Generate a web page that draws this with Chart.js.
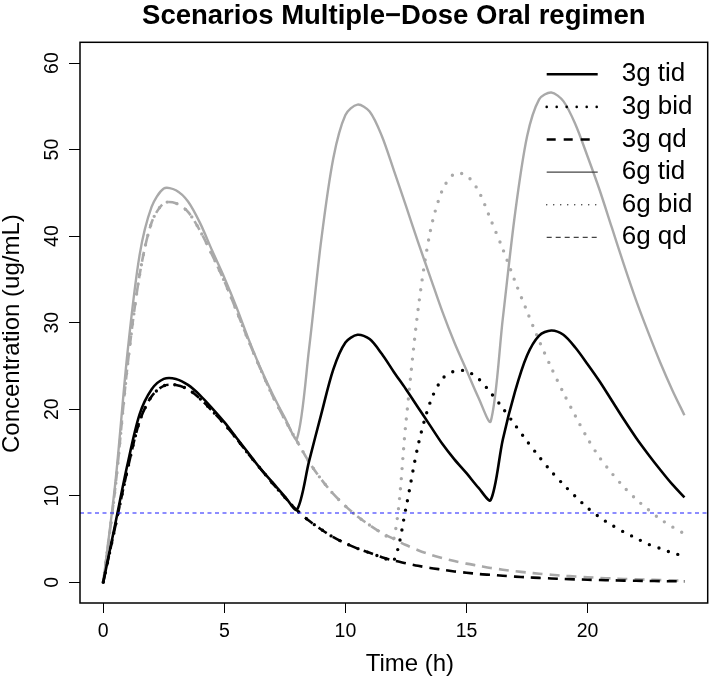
<!DOCTYPE html>
<html>
<head>
<meta charset="utf-8">
<title>Scenarios Multiple-Dose Oral regimen</title>
<script src="https://cdn.jsdelivr.net/npm/chart.js@4.4.1/dist/chart.umd.min.js"></script>
<style>
  html, body { margin: 0; padding: 0; background: #fff; }
  #wrap { width: 709px; height: 679px; }
</style>
</head>
<body>
<div id="wrap"><canvas id="pkChart"></canvas></div>
<script>
// time grid (h) and concentrations (ug/mL)
const hours = [0, 0.5, 1, 1.5, 2, 2.5, 3, 3.5, 4, 4.5, 5, 5.5, 6, 6.5, 7, 7.5, 8,
  8.5, 9, 9.5, 10, 10.5, 11, 11.5, 12, 12.5, 13, 13.5, 14, 14.5, 15, 15.5, 16,
  16.5, 17, 17.5, 18, 18.5, 19, 19.5, 20, 20.5, 21, 21.5, 22, 22.5, 23, 23.5, 24];

const tid3g = [0, 6.8, 13.6, 19.4, 22.3, 23.5, 23.5, 22.8, 21.6, 20.1, 18.5, 16.7, 14.9, 13.1, 11.5, 9.9, 8.4,
  14.0, 19.4, 24.6, 27.7, 28.6, 28.1, 26.4, 24.3, 22.3, 20.2, 18.1, 16.0, 14.2, 12.6, 10.9, 9.5,
  16.5, 22.0, 26.2, 28.5, 29.1, 28.6, 27.1, 25.2, 23.2, 21.0, 18.8, 16.7, 14.8, 13.0, 11.3, 9.8];

const bid3g = [0, 6.5, 13.0, 18.6, 21.5, 22.7, 22.8, 22.3, 21.2, 19.8, 18.3, 16.6, 14.8, 13.1, 11.4, 9.8, 8.3,
  7.1, 6.1, 5.2, 4.5, 3.9, 3.4, 2.9, 2.5, 8.6, 15.8, 20.8, 23.5, 24.4, 24.4, 23.5, 21.9,
  20.1, 18.2, 16.3, 14.5, 12.8, 11.3, 9.9, 8.6, 7.5, 6.6, 5.8, 5.1, 4.4, 3.9, 3.4, 3.0];

const qd3g = [0, 6.5, 13.0, 18.6, 21.5, 22.7, 22.8, 22.3, 21.2, 19.8, 18.3, 16.6, 14.8, 13.1, 11.4, 9.8, 8.3,
  7.1, 6.1, 5.2, 4.5, 3.9, 3.4, 2.9, 2.5, 2.2, 1.9, 1.65, 1.45, 1.25, 1.1, 0.95, 0.85,
  0.75, 0.65, 0.57, 0.5, 0.44, 0.38, 0.33, 0.29, 0.25, 0.22, 0.19, 0.17, 0.15, 0.13, 0.11, 0.1];

const tid6g = [0, 11.5, 26.5, 37.8, 43.4, 45.5, 45.3, 44.0, 41.5, 38.3, 35.2, 31.8, 28.1, 24.7, 21.7, 19.0, 16.6,
  27.0, 39.5, 49.0, 54.0, 55.2, 54.4, 51.6, 47.6, 43.5, 39.3, 35.3, 31.3, 27.7, 24.5, 21.3, 18.6,
  30.5, 42.5, 51.5, 55.8, 56.6, 55.6, 52.9, 49.2, 45.3, 41.0, 36.7, 32.6, 28.9, 25.4, 22.2, 19.3];

const bid6g = [0, 11.0, 25.0, 35.5, 41.6, 43.8, 43.8, 42.8, 40.6, 37.8, 34.8, 31.4, 27.9, 24.6, 21.5, 18.8, 16.3,
  13.9, 11.9, 10.2, 8.8, 7.6, 6.6, 5.7, 5.0, 18.5, 31.5, 40.5, 45.3, 47.2, 47.0, 45.2, 41.9,
  38.5, 34.8, 31.3, 27.9, 24.8, 21.9, 19.2, 16.6, 14.4, 12.6, 11.0, 9.6, 8.4, 7.3, 6.4, 5.6];

const qd6g = [0, 11.0, 25.0, 35.5, 41.6, 43.8, 43.8, 42.8, 40.6, 37.8, 34.8, 31.4, 27.9, 24.6, 21.5, 18.8, 16.3,
  13.9, 11.9, 10.2, 8.8, 7.6, 6.6, 5.7, 5.0, 4.3, 3.7, 3.2, 2.8, 2.45, 2.15, 1.9, 1.65,
  1.45, 1.28, 1.12, 0.98, 0.86, 0.75, 0.66, 0.58, 0.5, 0.44, 0.38, 0.33, 0.29, 0.25, 0.22, 0.19];

const seriesLabels = ['3g tid', '3g bid', '3g qd', '6g tid', '6g bid', '6g qd'];
const xTicks = [0, 5, 10, 15, 20];
const yTicks = [0, 10, 20, 30, 40, 50, 60];
const threshold = 8;
const xTitle = 'Time (h)';
const yTitle = 'Concentration (ug/mL)';

const FONT = "'Liberation Sans', Arial, Helvetica, sans-serif";
const BLACK = '#000000';
const GREY = '#a9a9a9';
const LEGEND_DARK = '#444444';

const toPoints = values => values.map((v, i) => ({ x: hours[i], y: v }));

const solid = [];
const dots = [0, 10];
const dashes = [10, 7];

const lineSet = (label, values, color, dash, width, legend) => ({
    label,
    data: toPoints(values),
    borderColor: color,
    borderWidth: width,
    borderDash: dash,
    borderCapStyle: dash === dots ? 'round' : 'butt',
    pointRadius: 0,
    fill: false,
    tension: 0.3,
    legendStyle: legend,
});

const datasets = [
    lineSet(seriesLabels[0], tid3g, BLACK, solid, 2.6, { color: BLACK, width: 2.6, dash: [], cap: 'butt' }),
    lineSet(seriesLabels[1], bid3g, BLACK, dots, 3.4, { color: BLACK, width: 2.6, dash: [0, 10], cap: 'round' }),
    lineSet(seriesLabels[2], qd3g, BLACK, dashes, 2.6, { color: BLACK, width: 2.6, dash: [9, 8], cap: 'butt' }),
    lineSet(seriesLabels[3], tid6g, GREY, solid, 2.4, { color: LEGEND_DARK, width: 1.3, dash: [], cap: 'butt' }),
    lineSet(seriesLabels[4], bid6g, GREY, dots, 3.4, { color: LEGEND_DARK, width: 1.6, dash: [0, 7], cap: 'round' }),
    lineSet(seriesLabels[5], qd6g, GREY, dashes, 2.6, { color: LEGEND_DARK, width: 1.3, dash: [5, 4], cap: 'butt' }),
];

// R-like frame: box, abline at threshold, rotated y labels, axis titles, legend in the corner
const rStyle = {
    id: 'rStyle',
    afterDatasetsDraw(chart) {
        const { ctx, chartArea: a, scales: { y } } = chart;
        const ty = y.getPixelForValue(threshold);
        ctx.save();
        ctx.beginPath();
        ctx.rect(a.left, a.top, a.right - a.left, a.bottom - a.top);
        ctx.clip();
        ctx.strokeStyle = '#1a1aff';
        ctx.lineWidth = 1.1;
        ctx.setLineDash([4, 3.5]);
        ctx.beginPath();
        ctx.moveTo(a.left, ty);
        ctx.lineTo(a.right, ty);
        ctx.stroke();
        ctx.restore();

        ctx.save();
        ctx.strokeStyle = BLACK;
        ctx.lineWidth = 1.5;
        ctx.strokeRect(a.left, a.top, a.right - a.left, a.bottom - a.top);
        ctx.restore();
    },
    afterDraw(chart) {
        const { ctx, chartArea: a, scales: { y } } = chart;

        ctx.save();
        ctx.fillStyle = BLACK;
        ctx.font = `19.5px ${FONT}`;
        ctx.textAlign = 'center';
        ctx.textBaseline = 'middle';
        y.ticks.forEach(t => {
            ctx.save();
            ctx.translate(a.left - 27, y.getPixelForValue(t.value));
            ctx.rotate(-Math.PI / 2);
            ctx.fillText(String(t.value), 0, 0);
            ctx.restore();
        });

        ctx.font = `24px ${FONT}`;
        ctx.fillText(xTitle, (a.left + a.right) / 2 + 16, 664);
        ctx.save();
        ctx.translate(12, (a.top + a.bottom) / 2 + 11);
        ctx.rotate(-Math.PI / 2);
        ctx.fillText(yTitle, 0, 0);
        ctx.restore();
        ctx.restore();

        const lineStart = a.right - 161;
        const lineEnd = a.right - 110;
        const textX = a.right - 86;
        ctx.save();
        ctx.font = `26px ${FONT}`;
        ctx.textBaseline = 'middle';
        ctx.textAlign = 'left';
        chart.data.datasets.forEach((ds, i) => {
            const rowY = a.top + 32 + i * 32.6;
            const st = ds.legendStyle;
            ctx.save();
            ctx.strokeStyle = st.color;
            ctx.lineWidth = st.width;
            ctx.lineCap = st.cap;
            ctx.setLineDash(st.dash);
            ctx.beginPath();
            ctx.moveTo(lineStart, rowY);
            ctx.lineTo(lineEnd, rowY);
            ctx.stroke();
            ctx.restore();
            ctx.fillStyle = BLACK;
            ctx.fillText(ds.label, textX, rowY);
        });
        ctx.restore();
    },
};

const axisGrid = len => ({
    display: true,
    drawOnChartArea: false,
    drawTicks: true,
    tickLength: len,
    color: BLACK,
    lineWidth: 1,
});

new Chart(document.getElementById('pkChart'), {
    type: 'line',
    data: { datasets },
    options: {
        responsive: true,
        maintainAspectRatio: false,
        animation: false,
        devicePixelRatio: 1,
        layout: { padding: { right: 1.3 } },
        plugins: {
            legend: { display: false },
            tooltip: { enabled: false },
            title: {
                display: true,
                fullSize: false,
                text: 'Scenarios Multiple\u2212Dose Oral regimen',
                color: BLACK,
                font: { family: FONT, size: 27.5, weight: 'bold', lineHeight: 1.2 },
                padding: { top: 0, bottom: 9.3 },
            },
        },
        scales: {
            x: {
                type: 'linear',
                min: -0.96,
                max: 24.96,
                afterBuildTicks: s => { s.ticks = xTicks.map(v => ({ value: v })); },
                afterFit: s => { s.height = 76; },
                grid: axisGrid(10),
                border: { display: false },
                ticks: {
                    color: BLACK,
                    font: { family: FONT, size: 19.5, lineHeight: 1.2 },
                    padding: 7,
                    maxRotation: 0,
                    autoSkip: false,
                },
            },
            y: {
                type: 'linear',
                min: -2.4,
                max: 62.4,
                afterBuildTicks: s => { s.ticks = yTicks.map(v => ({ value: v })); },
                afterFit: s => { s.width = 80; },
                grid: axisGrid(11),
                border: { display: false },
                ticks: { display: false },
            },
        },
    },
    plugins: [rStyle],
});
</script>
</body>
</html>
